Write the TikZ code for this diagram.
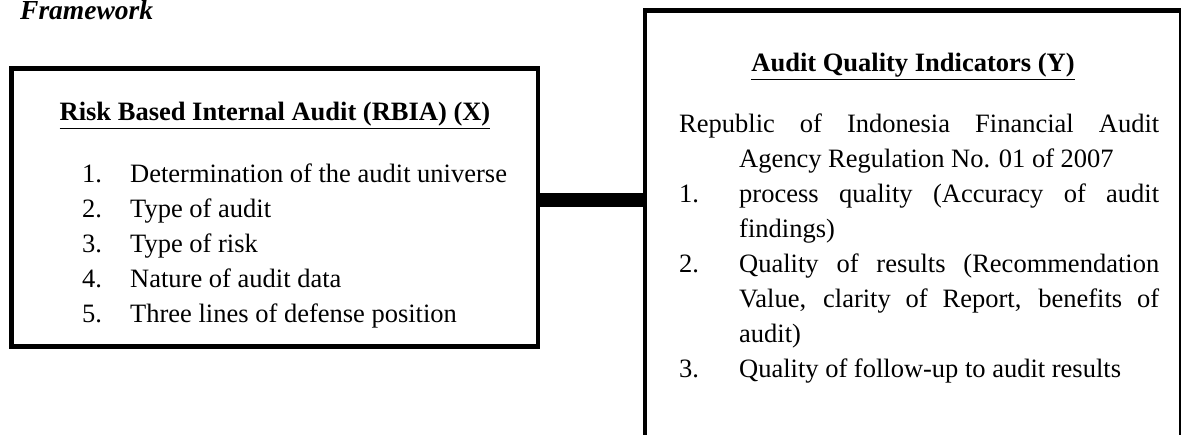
\documentclass[tikz,border=0pt]{standalone}
\usepackage{fontspec}
\setmainfont{Liberation Serif}
\begin{document}
\begin{tikzpicture}[x=1pt,y=-1pt,
    varbox/.style={draw,line width=4.6pt,inner sep=0pt},
    txt/.style={inner sep=0pt,anchor=base west,font=\fontsize{26.5}{35}\selectfont}]
    \useasboundingbox (0,0) rectangle (1181,435);
    \clip (0,0) rectangle (1181,435);

    \node[txt,font=\fontsize{27.5}{35}\selectfont\bfseries\itshape] (frame) at (20,20) {Framework};

    % the two variables
    \node[varbox,minimum width=526.5pt,minimum height=278pt] (rbia) at (274.75,207.5) {};
    \node[varbox,minimum width=536.5pt,minimum height=460pt] (aqi) at (913.25,240.5) {};
    \coordinate (join) at ([yshift=7.5pt]rbia.east);
    \draw[line width=14pt] (join) -- (join -| aqi.west);

    % left box
    \node[txt,anchor=base,font=\fontsize{26.5}{35}\selectfont\bfseries] (xhead) at (275,121)
        {\underline{Risk Based Internal Audit (RBIA) (X)}};
    \foreach \n/\lbl in {1/Determination of the audit universe,2/Type of audit,
        3/Type of risk,4/Nature of audit data,5/Three lines of defense position}{
        \node[txt] (xnum\n) at (82,{148+35*\n}) {\n.};
        \node[txt] (xitem\n) at (130,{148+35*\n}) {\lbl};
    }

    % right box
    \node[txt,anchor=base,font=\fontsize{26.5}{35}\selectfont\bfseries] (yhead) at (913,72)
        {\underline{Audit Quality Indicators (Y)}};
    \node[txt] (ybody) at (679,133) {\parbox[t]{480pt}{%
        \spaceskip=6.6pt plus 40pt minus 1pt \hyphenpenalty=10000
        \hangindent=60pt \hangafter=1
        Republic of Indonesia Financial Audit\linebreak Agency Regulation No. 01 of 2007\par
        \hangindent=60pt \hangafter=0
        \noindent\llap{\makebox[60pt][l]{1.}}process quality (Accuracy of audit\linebreak findings)\par
        \hangindent=60pt \hangafter=0
        \noindent\llap{\makebox[60pt][l]{2.}}Quality of results (Recommendation\linebreak
        Value, clarity of Report, benefits of\linebreak audit)\par
        \hangindent=60pt \hangafter=0
        \noindent\llap{\makebox[60pt][l]{3.}}Quality of follow-up to audit results}};
\end{tikzpicture}
\end{document}
